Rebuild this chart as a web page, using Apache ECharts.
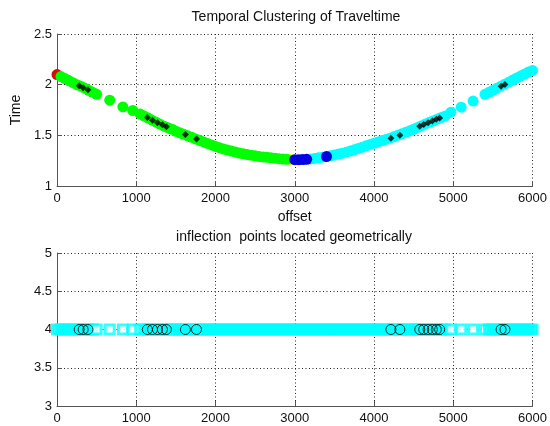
<!DOCTYPE html>
<html>
<head>
<meta charset="utf-8">
<script src="https://cdn.jsdelivr.net/npm/echarts@6/dist/echarts.min.js"></script>
<style>html,body{margin:0;padding:0;background:#fff;}#chart{width:550px;height:426px;}</style>
</head>
<body>
<div id="chart"></div>
<script>
// ---- data ----
const xTicks = [0, 1000, 2000, 3000, 4000, 5000, 6000];
const topYTicks = [1, 1.5, 2, 2.5];
const bottomYTicks = [3, 3.5, 4, 4.5, 5];

// cluster: red
const redOffset = [0];
const redTime = [2.10];
// cluster: yellow
const yellowOffset = [2950];
const yellowTime = [1.261];
// cluster: green
const greenOffset = [50, 100, 150, 200, 250, 300, 350, 400, 450, 500,
  665, 832, 957,
  1050, 1100, 1150, 1200, 1250, 1300, 1350, 1400, 1450, 1500, 1550, 1600, 1650, 1700, 1750, 1800, 1850, 1900, 1950,
  2000, 2050, 2100, 2150, 2200, 2250, 2300, 2350, 2400, 2450, 2500, 2550, 2600, 2650, 2700, 2750, 2800, 2850, 2900];
const greenTime = [2.080, 2.060, 2.040, 2.020, 2.000, 1.985, 1.965, 1.945, 1.925, 1.905,
  1.847, 1.780, 1.745,
  1.710, 1.690, 1.670, 1.650, 1.630, 1.610, 1.590, 1.575, 1.560, 1.540, 1.525, 1.510, 1.495, 1.480, 1.465, 1.450, 1.435, 1.420, 1.405,
  1.390, 1.378, 1.366, 1.355, 1.345, 1.335, 1.325, 1.318, 1.310, 1.304, 1.298, 1.292, 1.287, 1.283, 1.278, 1.274, 1.270, 1.266, 1.263];
// cluster: cyan
const cyanOffset = [3200, 3250, 3300, 3350, 3450, 3500, 3550, 3600, 3650, 3700, 3750, 3800, 3850, 3900, 3950,
  4000, 4050, 4100, 4150, 4200, 4250, 4300, 4350, 4400, 4450, 4500, 4550, 4600, 4650, 4700, 4750, 4800, 4850, 4900,
  4970, 5100, 5250, 5400,
  5450, 5500, 5550, 5600, 5650, 5700, 5750, 5800, 5850, 5900, 5950, 6000];
const cyanTime = [1.267, 1.272, 1.278, 1.284, 1.298, 1.306, 1.315, 1.324, 1.334, 1.345, 1.357, 1.370, 1.383, 1.396, 1.410,
  1.422, 1.435, 1.448, 1.460, 1.472, 1.486, 1.500, 1.515, 1.530, 1.545, 1.560, 1.578, 1.595, 1.612, 1.628, 1.644, 1.660, 1.676, 1.692,
  1.728, 1.778, 1.838, 1.905,
  1.925, 1.945, 1.965, 1.985, 2.005, 2.025, 2.045, 2.065, 2.085, 2.105, 2.125, 2.140];
// cluster: blue
const blueOffset = [3000, 3050, 3100, 3150, 3400];
const blueTime = [1.260, 1.260, 1.261, 1.263, 1.291];

// inflection points
const inflectOffset = [280, 330, 390, 1140, 1205, 1268, 1330, 1380, 1620, 1760,
  4213, 4326, 4577, 4627, 4682, 4736, 4786, 4828, 5603, 5652];
const inflectTime = [1.990, 1.970, 1.950, 1.675, 1.650, 1.625, 1.605, 1.585, 1.507, 1.465,
  1.470, 1.502, 1.590, 1.607, 1.625, 1.642, 1.658, 1.672, 1.985, 2.002];
const inflectLevel = 4;
const bandLevel = 4;

const titleTop = 'Temporal Clustering of Traveltime';
const titleBottom = 'inflection  points located geometrically';
const xName = 'offset';
const yName = 'Time';

// ---- build ----
const pairs = (xs, ys) => xs.map((x, i) => [x, ys[i]]);
const allOffsets = [].concat(redOffset, greenOffset, yellowOffset, cyanOffset, blueOffset).sort((a, b) => a - b);
// a point whose neighbour is far away is drawn as an open square (its inside stays visible)
const isolated = allOffsets.map((x, i) => {
  const prev = i > 0 ? x - allOffsets[i - 1] : 0;
  const next = i < allOffsets.length - 1 ? allOffsets[i + 1] - x : 0;
  return prev > 80 || next > 80;
});

const FONT = 'Liberation Sans, Arial, sans-serif';
const axisLabelStyle = { color: '#111', fontSize: 13, fontFamily: FONT, formatter: v => String(v) };
const gridLine = { show: true, lineStyle: { color: '#222', type: [1, 2.5], width: 1 } };
const axisLine = { show: true, lineStyle: { color: '#555', width: 1 } };
const axisTick = { show: true, inside: true, length: 5, lineStyle: { color: '#555' } };

function xAxisDef(gridIndex, name) {
  return {
    type: 'value', gridIndex, min: xTicks[0], max: xTicks[xTicks.length - 1], interval: xTicks[1] - xTicks[0],
    axisLine, axisTick, splitLine: gridLine,
    axisLabel: Object.assign({ margin: 6 }, axisLabelStyle),
    name: name || '', nameLocation: 'middle', nameGap: 24,
    nameTextStyle: { color: '#111', fontSize: 14, fontFamily: FONT }
  };
}
function yAxisDef(gridIndex, ticks, name) {
  return {
    type: 'value', gridIndex, min: ticks[0], max: ticks[ticks.length - 1], interval: ticks[1] - ticks[0],
    axisLine, axisTick, splitLine: gridLine,
    axisLabel: Object.assign({ margin: 5 }, axisLabelStyle),
    name: name || '', nameLocation: 'middle', nameGap: 31,
    nameTextStyle: { color: '#111', fontSize: 14, fontFamily: FONT }
  };
}

function curveSeries(xs, ys, color) {
  return {
    type: 'scatter', xAxisIndex: 0, yAxisIndex: 0, data: pairs(xs, ys),
    symbol: 'circle', symbolSize: 11, silent: true,
    itemStyle: { color: color, opacity: 1 }
  };
}

const option = {
  animation: false,
  backgroundColor: '#fff',
  grid: [
    { left: 57, right: 15, top: 34, height: 152 },
    { left: 57, right: 15, top: 253, height: 153 }
  ],
  xAxis: [xAxisDef(0, xName), xAxisDef(1)],
  yAxis: [yAxisDef(0, topYTicks, yName), yAxisDef(1, bottomYTicks)],
  graphic: [
    { type: 'text', x: 296, y: 17, style: { text: titleTop, align: 'center', verticalAlign: 'middle', fill: '#111', font: '14px ' + FONT } },
    { type: 'text', x: 294, y: 237, style: { text: titleBottom, align: 'center', verticalAlign: 'middle', fill: '#111', font: '14px ' + FONT } }
  ],
  series: [
    curveSeries(redOffset, redTime, '#d01000'),
    curveSeries(yellowOffset, yellowTime, '#f0f000'),
    curveSeries(greenOffset, greenTime, '#00ff00'),
    curveSeries(cyanOffset, cyanTime, '#00ffff'),
    curveSeries(blueOffset, blueTime, '#0000e0'),
    {
      type: 'scatter', xAxisIndex: 0, yAxisIndex: 0, data: pairs(inflectOffset, inflectTime),
      symbol: 'diamond', symbolSize: 7, silent: true, itemStyle: { color: '#000' }
    },
    {
      type: 'scatter', xAxisIndex: 1, yAxisIndex: 1,
      data: allOffsets.map((x, i) => ({
        value: [x, bandLevel],
        itemStyle: { color: isolated[i] ? '#ffffff' : '#00ffff' }
      })),
      symbol: 'rect', symbolSize: 9, silent: true,
      itemStyle: { borderColor: '#00ffff', borderWidth: 3 }
    },
    {
      type: 'scatter', xAxisIndex: 1, yAxisIndex: 1, data: inflectOffset.map(x => [x, inflectLevel]),
      symbol: 'circle', symbolSize: 10, silent: true,
      itemStyle: { color: 'rgba(0,0,0,0)', borderColor: '#000', borderWidth: 1 }
    }
  ]
};

const chart = echarts.init(document.getElementById('chart'), null, { renderer: 'canvas' });
chart.setOption(option);
</script>
</body>
</html>
